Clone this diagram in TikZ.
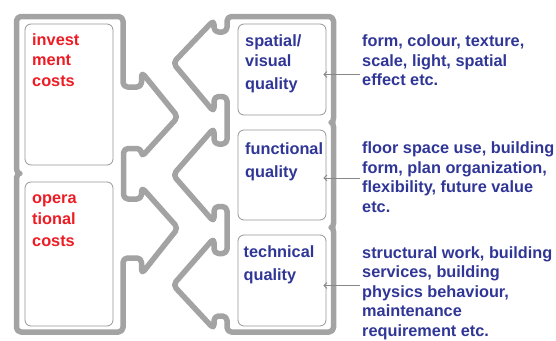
\documentclass[tikz,border=0pt]{standalone}
\usepackage{fontspec}
\setmainfont{Liberation Sans}
\usetikzlibrary{arrows.meta}
\definecolor{outl}{RGB}{163,163,163}
\definecolor{boxl}{RGB}{150,150,150}
\definecolor{arrl}{RGB}{135,135,135}
\definecolor{redt}{RGB}{237,28,36}
\definecolor{bluet}{RGB}{48,54,150}
\tikzset{
  outline/.style={draw=outl, line width=5.5pt, rounded corners=4.5pt, line join=round},
  ibox/.style={draw=boxl, line width=0.8pt, rounded corners=6pt, inner sep=0pt, minimum width=88pt},
  txt/.style={font=\fontsize{16.3}{19.5}\selectfont\bfseries, anchor=base west, inner sep=0pt},
  redtxt/.style={txt, text=redt},
  bluetxt/.style={txt, text=bluet},
  arr/.style={draw=arrl, line width=0.8pt, -{Straight Barb[length=3pt,width=6pt]}}
}
\begin{document}
\begin{tikzpicture}[x=1pt,y=-1pt]
\useasboundingbox (0,0) rectangle (556,340);
% left outline
\draw[outline] (16.5,16.5) -- (123,16.5) -- (123,87) -- (141.5,87) -- (141.5,72)
  -- (178,117) -- (141.5,157) -- (141.5,148.5) -- (123.5,148.5) -- (123.5,199)
  -- (141.5,199) -- (141.5,187) -- (178,228) -- (141.5,274) -- (141.5,258)
  -- (123,258) -- (123,332) -- (16.5,332) -- (16.5,182)
  to[out=90,in=180] (22.5,173.5) to[out=180,in=-90] (16.5,165) -- cycle;
% right outline
\draw[outline] (227,16.5) -- (333.5,16.5) -- (333.5,114)
  to[out=-90,in=0] (328.5,122.5) to[out=0,in=90] (333.5,131) -- (333.5,219)
  to[out=-90,in=0] (328.5,227.5) to[out=0,in=90] (333.5,236) -- (333.5,332)
  -- (227,332) -- (227,316) -- (214,316) -- (214,329) -- (173,285) -- (214,238)
  -- (214,253.5) -- (227,253.5) -- (227,206.5) -- (214,206.5) -- (214,222)
  -- (173,175) -- (214,128) -- (214,144) -- (227,144) -- (227,96.5) -- (214,96.5)
  -- (214,112) -- (173,63) -- (214,20) -- (214,32) -- (227,32) -- cycle;
% inner boxes
\node[ibox, minimum height=141pt] (inv) at (69,94.5) {};
\node[ibox, minimum height=144pt] (ope) at (69,254) {};
\node[ibox, minimum height=91pt] (spa) at (282,69.5) {};
\node[ibox, minimum height=90pt] (fun) at (282,175) {};
\node[ibox, minimum height=91pt] (tec) at (282,280.5) {};
% red texts
\node[redtxt] (inv1) at (32,45) {invest};
\node[redtxt] (inv2) at (32,65.5) {ment};
\node[redtxt] (inv3) at (32,86) {costs};
\node[redtxt] (ope1) at (32,203.3) {opera};
\node[redtxt] (ope2) at (32,224.5) {tional};
\node[redtxt] (ope3) at (32,246) {costs};
% blue box texts
\node[bluetxt] (spa1) at (245,46.7) {spatial/};
\node[bluetxt] (spa2) at (245,66) {visual};
\node[bluetxt] (spa3) at (245,89.3) {quality};
\node[bluetxt] (fun1) at (245,154) {functional};
\node[bluetxt] (fun2) at (245,177.3) {quality};
\node[bluetxt] (tec1) at (243.5,257.3) {technical};
\node[bluetxt] (tec2) at (243.5,280.7) {quality};
% descriptions
\node[bluetxt] (d11) at (362,46.7) {form, colour, texture,};
\node[bluetxt] (d12) at (362,66.2) {scale, light, spatial};
\node[bluetxt] (d13) at (362,85.7) {effect etc.};
\node[bluetxt] (d21) at (362,153.5) {floor space use, building};
\node[bluetxt] (d22) at (362,173) {form, plan organization,};
\node[bluetxt] (d23) at (362,192.5) {flexibility, future value};
\node[bluetxt] (d24) at (362,212) {etc.};
\node[bluetxt] (d31) at (362,258.3) {structural work, building};
\node[bluetxt] (d32) at (362,277.7) {services, building};
\node[bluetxt] (d33) at (362,297.1) {physics behaviour,};
\node[bluetxt] (d34) at (362,316.5) {maintenance};
\node[bluetxt] (d35) at (362,336) {requirement etc.};
% arrows
\coordinate (s1) at (360,74.5);
\coordinate (s2) at (360,178);
\coordinate (s3) at (360,285.5);
\draw[arr] (s1) -- ([xshift=-3pt]spa.east |- s1);
\draw[arr] (s2) -- ([xshift=-3pt]fun.east |- s2);
\draw[arr] (s3) -- ([xshift=-3pt]tec.east |- s3);
\end{tikzpicture}
\end{document}
